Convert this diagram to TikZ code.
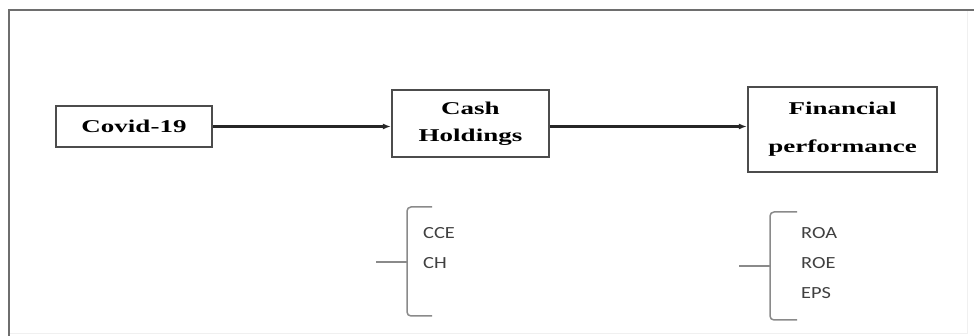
\documentclass[tikz,border=0pt]{standalone}
\usepackage{fontspec}
\usepackage{tikz}
\usetikzlibrary{arrows.meta, positioning, calc}
\newfontfamily\boxfont{Liberation Serif}[FakeStretch=1.5]
\newfontfamily\varfont{Carlito}[FakeStretch=1.2]
\definecolor{frameGray}{HTML}{6E6E6E}
\definecolor{braceGray}{HTML}{8A8A8A}

\begin{document}
\begin{tikzpicture}[x=1pt, y=-1pt,
  box/.style={draw=black!70, line width=2.2pt, align=center, inner sep=0pt,
    font=\boxfont\bfseries\fontsize{18}{27}\selectfont},
  link/.style={-{Latex[length=8pt, width=6pt]}, line width=2.4pt, black!85},
  brace/.style={braceGray, line width=1.5pt, rounded corners=4pt},
  measure/.style={anchor=west, inner sep=0pt, text=black!75,
    font=\varfont\fontsize{17}{20}\selectfont}]
\useasboundingbox (0,0) rectangle (974,336);
% outer frame
\draw[black!6] (9,333) -- (967,333) -- (967,10);
\draw[frameGray, line width=2.8pt] (9,336) -- (9,10) -- (974,10);

% main chain
\node[box, minimum width=156, minimum height=41] (covid) at (134,126.5) {Covid-19};
\node[box, minimum width=157, minimum height=67] (cash) at (470.5,123.5) {Cash\\Holdings};
\node[box, minimum width=189, minimum height=85] (fin) at (842.5,129.5) {Financial\\[11pt]performance};
\draw[link] (covid.east) -- (covid.east -| cash.west);
\draw[link] (cash.east |- covid.east) -- (covid.east -| fin.west);

% measures of cash holdings
\draw[brace] (432,207) -- (407,207) -- (407,316) -- (432,316);
\draw[brace] (407,262) -- (376,262);
\node[measure] (cce) at (423,233) {CCE};
\node[measure] (ch) at (423,263) {CH};

% measures of financial performance
\draw[brace] (797,212) -- (770,212) -- (770,320) -- (797,320);
\draw[brace] (770,266) -- (739,266);
\node[measure] (roa) at (801,233) {ROA};
\node[measure] (roe) at (801,263) {ROE};
\node[measure] (eps) at (801,293) {EPS};
\end{tikzpicture}
\end{document}
